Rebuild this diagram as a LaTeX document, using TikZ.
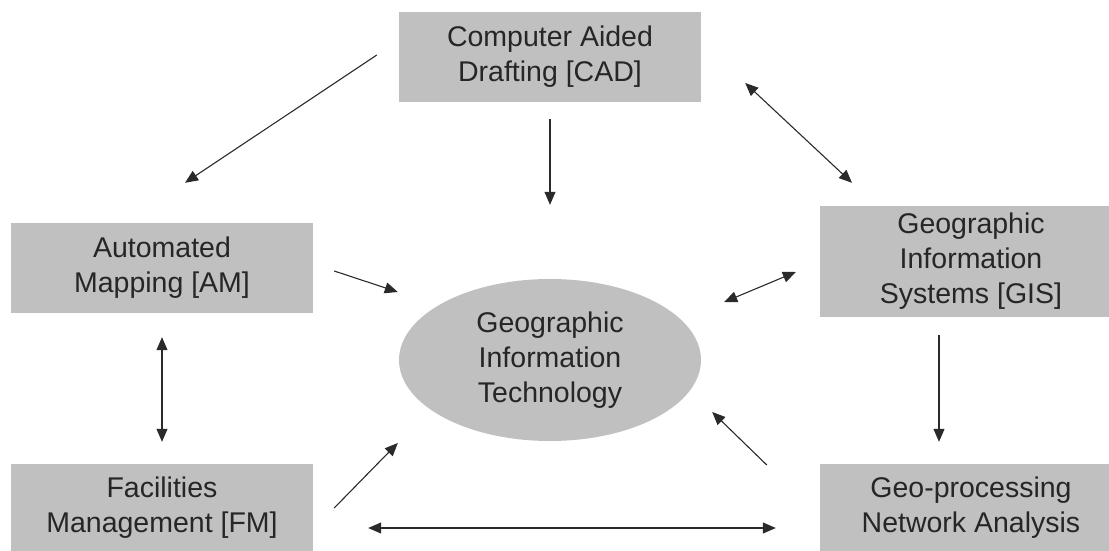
\documentclass[tikz,border=0pt]{standalone}
\usepackage{fontspec}
\setmainfont{Liberation Sans}
\usepackage{tikz}
\usetikzlibrary{arrows.meta,shapes.geometric,positioning}
\definecolor{boxgray}{HTML}{C0C0C0}
\definecolor{linegray}{HTML}{2A2A2A}

\begin{document}
\begin{tikzpicture}[x=1pt, y=-1pt,
    every node/.style={font=\fontsize{28.5}{35}\selectfont, text=black!85, align=center},
    sysbox/.style={rectangle, fill=boxgray, minimum width=302pt, minimum height=90pt, inner sep=0pt},
    core/.style={ellipse, fill=boxgray, minimum width=302pt, minimum height=162pt, inner sep=0pt},
    arr/.style={draw=linegray, line width=1.1pt, -{Triangle[length=13pt,width=11pt]}},
    darr/.style={draw=linegray, line width=1.1pt, {Triangle[length=13pt,width=11pt]}-{Triangle[length=13pt,width=11pt]}}]
      \useasboundingbox (0,0) rectangle (1109,551);

      % --- boxes ---
      \node[sysbox] (cad) at (550,57) {Computer Aided\\Drafting [CAD]};
      \node[sysbox] (am) at (162,268) {Automated\\Mapping [AM]};
      \node[sysbox, minimum height=111pt] (gis) at (971,261.5) {Geographic\\Information\\Systems [GIS]};
      \node[sysbox, minimum height=88pt] (fm) at (162,508) {Facilities\\Management [FM]};
      \node[sysbox, minimum height=88pt] (gna) at (971,508) {Geo-processing\\Network Analysis};

      % --- centre ---
      \node[core] (git) at (550,360) {Geographic\\Information\\Technology};

      % --- arrows into / out of CAD ---
      \draw[arr] ([shift={(-22,-2)}]cad.west) -- ([shift={(23,-40)}]am.north);
      \draw[arr] ([shift={(0,17)}]cad.south) -- ([shift={(0,-74)}]git.north);
      \draw[darr] ([shift={(44,26)}]cad.east) -- ([shift={(-119,-23)}]gis.north);

      % --- left side ---
      \draw[arr] ([shift={(21,3)}]am.east) -- ([shift={(-1,-68)}]git.west);
      \draw[darr] ([shift={(0,24)}]am.south) -- ([shift={(0,-22)}]fm.north);
      \draw[arr] ([shift={(21,0)}]fm.east) -- ([shift={(-1,83)}]git.west);

      % --- bottom and right side ---
      \draw[darr] ([shift={(55,20)}]fm.east) -- ([shift={(-44,20)}]gna.west);
      \draw[arr] ([shift={(-53,-43)}]gna.west) -- ([shift={(11,52)}]git.east);
      \draw[darr] ([shift={(-24,10.5)}]gis.west) -- ([shift={(23,-58)}]git.east);
      \draw[arr] ([shift={(-32,18)}]gis.south) -- ([shift={(-32,-22)}]gna.north);
\end{tikzpicture}
\end{document}
